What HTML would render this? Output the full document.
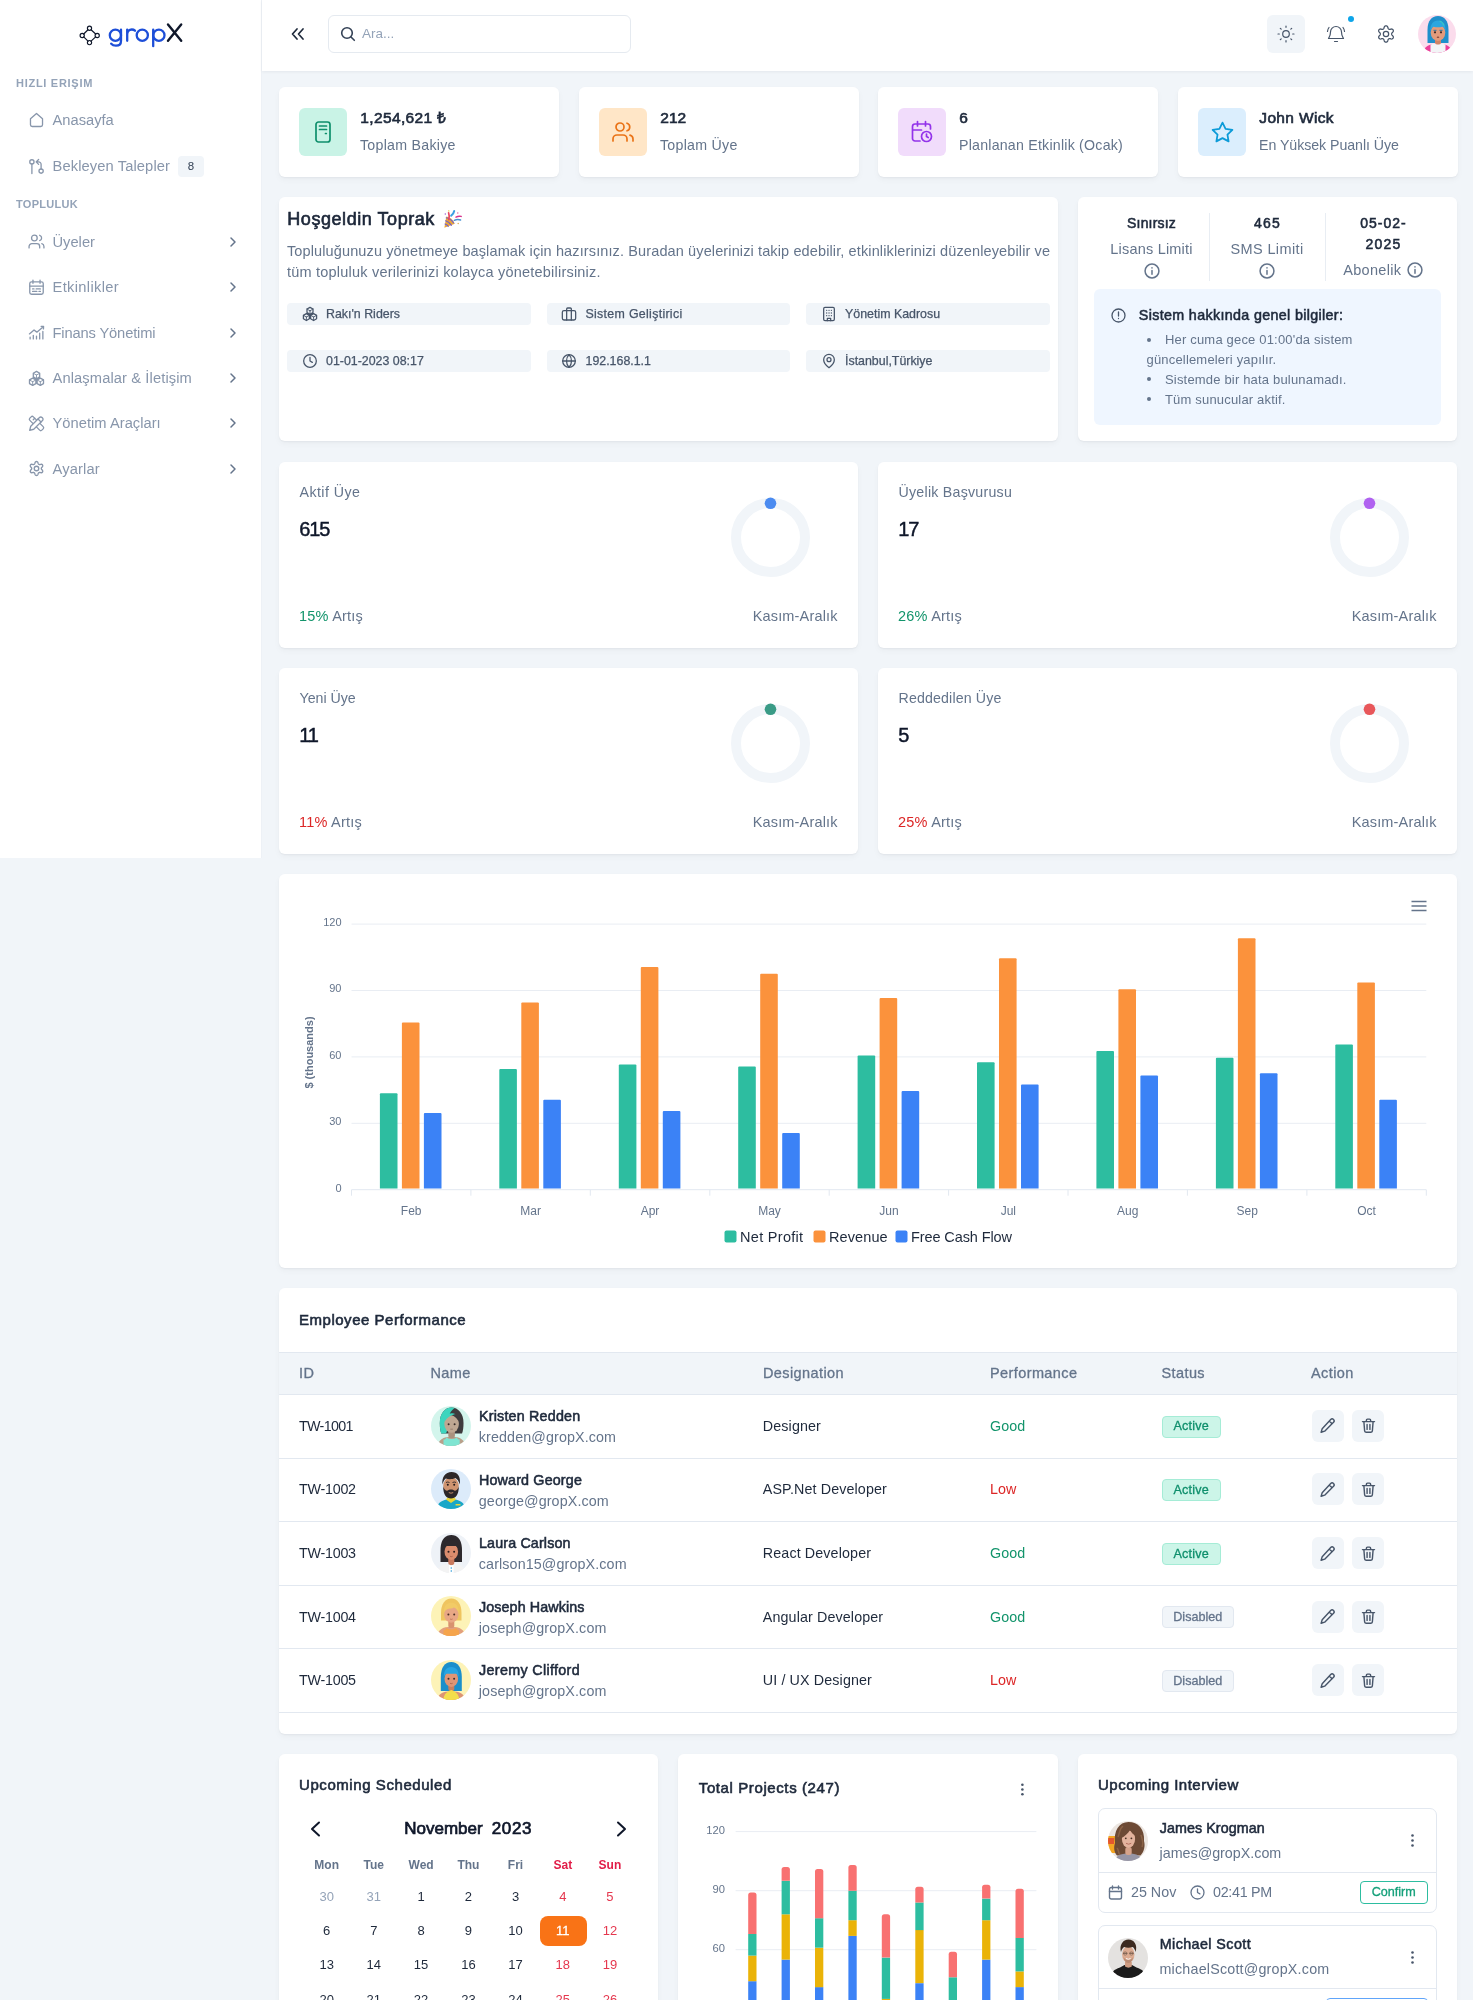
<!DOCTYPE html>
<html lang="tr">
<head>
<meta charset="utf-8">
<title>gropX</title>
<style>
*{box-sizing:border-box;margin:0;padding:0}
html,body{width:1473px;height:2000px;overflow:hidden}
body{background:#f1f5f9;font-family:"Liberation Sans",sans-serif;color:#1e293b;position:relative;font-size:14px;-webkit-font-smoothing:antialiased}
body>*{will-change:transform}
.abs{position:absolute}
.t{position:absolute;white-space:nowrap;line-height:1}
.card{position:absolute;background:#fff;border-radius:6px;box-shadow:0 1px 2px rgba(15,23,42,.05),0 3px 6px rgba(15,23,42,.035)}
svg{display:block;overflow:visible}
.ic{fill:none;stroke:currentColor;stroke-width:1.5;stroke-linecap:round;stroke-linejoin:round}
.b{font-weight:700}
.mut{color:#64748b}
/* sidebar */
#side{position:absolute;left:0;top:0;width:262px;height:858px;background:#fff;border-right:1px solid #edf1f6}
.sec{position:absolute;left:16px;font-size:11px;font-weight:700;letter-spacing:.75px;color:#94a3b8;line-height:1;white-space:nowrap}
.nav{position:absolute;left:28px;height:20px;display:flex;align-items:center;color:#8896ab;font-size:14.7px;white-space:nowrap}
.nav svg{width:17px;height:17px;margin-right:8px;flex:none;stroke-width:1.850;margin-left:-.5px}
.chev{position:absolute;left:229px;width:8px;height:10px;color:#64748b}
#bdg{margin-left:8px;background:#f1f5f9;color:#334155;font-size:11.500px;font-weight:500;border-radius:4px;width:26px;height:21px;display:flex;align-items:center;justify-content:center}
/* header */
#head{position:absolute;left:262px;top:0;width:1211px;height:70.500px;background:#fff;box-shadow:0 1px 3px rgba(15,23,42,.06)}
/* stat */
.st-ic{position:absolute;left:20.400px;top:21.400px;width:48px;height:48px;border-radius:6px;display:flex;align-items:center;justify-content:center}
.st-t{position:absolute;left:81.300px;top:23.200px;font-size:15.500px;color:#1e293b;white-space:nowrap;line-height:1;-webkit-text-stroke:.65px #1e293b}
.st-s{position:absolute;left:81px;top:51.200px;font-size:14.200px;letter-spacing:.27px;color:#64748b;white-space:nowrap;line-height:1}
/* chips */
.chip{position:absolute;width:243.500px;height:22px;background:#f1f5f9;border-radius:4px;color:#475569;font-size:12.400px;font-weight:500;-webkit-text-stroke:.25px #475569;display:flex;align-items:center;padding-left:15px;white-space:nowrap}
.chip svg{width:16px;height:16px;margin-right:8.500px;flex:none;stroke-width:1.900;margin-left:-.5px}
/* mini stats */
.ms-l{position:absolute;left:20.500px;top:23.100px;font-size:14.200px;letter-spacing:.25px;color:#64748b;line-height:1;white-space:nowrap}
.ms-v{position:absolute;left:20.300px;top:57.300px;font-size:20px;letter-spacing:-1.100px;font-weight:500;color:#0f172a;line-height:1;white-space:nowrap;-webkit-text-stroke:.45px #0f172a}
.ms-p{position:absolute;left:20px;top:147px;font-size:14.500px;letter-spacing:.22px;color:#64748b;line-height:1;white-space:nowrap}
.ms-r{position:absolute;right:20.300px;top:147px;font-size:14.500px;letter-spacing:.17px;color:#64748b;line-height:1;white-space:nowrap}
.ring{position:absolute;left:451px;top:35px;width:81px;height:81px}
.bu{display:inline-block;width:18.500px;height:4px;vertical-align:middle;position:relative;top:-1px}.bu:before{content:'';position:absolute;left:.5px;top:0;width:4px;height:4px;border-radius:50%;background:#64748b}
.g{color:#12946b}.r{color:#dc2626}

.th{font-size:14.500px;letter-spacing:.4px;font-weight:500;color:#64748b;-webkit-text-stroke:.3px #64748b}
.td{font-size:14.300px;color:#1e293b}
.sb{-webkit-text-stroke:.55px #1e293b}
.td.mut{color:#64748b}.td.g{color:#12946b}.td.r{color:#dc2626}
.bdg{position:absolute;height:22px;border-radius:4px;font-size:12.600px;font-weight:500;display:flex;align-items:center;justify-content:center;line-height:1}
.act{width:58.500px;background:#ccf5e8;border:1px solid #a5ecd6;color:#0e8f6c;-webkit-text-stroke:.3px #0e8f6c;letter-spacing:.2px}
.dis{width:71.500px;background:#f1f5f9;border:1px solid #e2e8f0;color:#64748b;-webkit-text-stroke:.3px #64748b}
.abtn{position:absolute;width:32px;height:32px;border-radius:6px;background:#f1f5f9;color:#475569;display:flex;align-items:center;justify-content:center}
</style>
</head>
<body>
<!-- SIDEBAR -->
<div id="side">
  <svg class="abs" style="left:79px;top:22px" width="106" height="27" viewBox="79 22 106 27" fill="none" stroke-linecap="round" stroke-linejoin="round">
    <g stroke="#0f172a" stroke-width="1.150">
      <path d="M88 29.770 83.700 33.980M91.040 29.730 95.660 34.020M83.700 36.920 88 41.130M95.660 36.880 91.040 41.170"/>
      <circle cx="89.500" cy="28.300" r="2.100"/><circle cx="82.200" cy="35.450" r="2.100"/><circle cx="97.200" cy="35.450" r="2.100"/><circle cx="89.500" cy="42.600" r="2.100"/>
    </g>
    <g stroke="#1d4ed8" stroke-width="2.300">
      <circle cx="115.400" cy="35.200" r="5.600"/>
      <path d="M121 29.600V41c0 3-2 4.700-5 4.700-2 0-3.700-.7-4.800-2"/>
      <path d="M127.200 29.600V40.800M127.200 34.500c0-3 2-5 4.600-5 1.400 0 2.400.5 3.200 1.200"/>
      <circle cx="142.300" cy="35.200" r="5.600"/>
      <path d="M153.200 29.600V46.200"/>
      <circle cx="158.900" cy="35.200" r="5.600"/>
    </g>
    <path d="M168 24.500 181.200 40.800M181.200 24.500 168 40.800" stroke="#0f172a" stroke-width="2.400"/>
  </svg>
  <div class="sec" style="top:78px;letter-spacing:.72px">HIZLI ERIŞIM</div>
  <div class="nav" style="top:110px"><svg class="ic" viewBox="0 0 24 24"><path d="M3.500 9.500 12 2l8.500 7.500V18a2.500 2.500 0 0 1-2.500 2.500H6A2.500 2.500 0 0 1 3.500 18z"/></svg>Anasayfa</div>
  <div class="nav" style="top:156px"><svg class="ic" viewBox="0 0 24 24"><circle cx="5.500" cy="5.500" r="3"/><path d="M5.500 8.500V22"/><circle cx="18.500" cy="18.500" r="3"/><path d="M18.500 15.500V9a3.500 3.500 0 0 0-3.500-3.500h-3M15 2l-3.500 3.500L15 9"/></svg><span style="letter-spacing:.11px">Bekleyen Talepler</span><span id="bdg">8</span></div>
  <div class="sec" style="top:199px;letter-spacing:.3px">TOPLULUK</div>
  <div class="nav" style="top:231.700px"><svg class="ic" viewBox="0 0 24 24"><circle cx="9" cy="7" r="4"/><path d="M1.500 21v-2a4 4 0 0 1 4-4h7a4 4 0 0 1 4 4v2M16.500 3.200a4 4 0 0 1 0 7.600M22.500 21v-2a4 4 0 0 0-3-3.850"/></svg>Üyeler</div>
  <div class="nav" style="top:277.100px"><svg class="ic" viewBox="0 0 24 24"><rect x="2.500" y="4" width="19" height="17.500" rx="2.500"/><path d="M7 1.500V6M17 1.500V6M2.500 10h19M6.500 14h2M11.500 14h6M6.500 17.500h6M15.500 17.500h2"/></svg><span style="letter-spacing:0.34px">Etkinlikler</span></div>
  <div class="nav" style="top:322.500px"><svg class="ic" viewBox="0 0 24 24"><path d="M2 14 8.500 8.500l4 3L22 3.500M18.500 3.300l3.500.2-.2 3.500M3 21v-2.500M7.500 21v-5M12 21v-4M16.500 21V13M21 21V10.500"/></svg><span style="letter-spacing:-0.14px">Finans Yönetimi</span></div>
  <div class="nav" style="top:368px"><svg class="ic" viewBox="0 0 24 24"><path d="M12.00 2.00 16.50 4.60 16.50 9.80 12.00 12.40 7.50 9.80 7.50 4.60zM6.60 11.40 11.10 14.00 11.10 19.20 6.60 21.80 2.10 19.20 2.10 14.00zM17.40 11.40 21.90 14.00 21.90 19.20 17.40 21.80 12.90 19.20 12.90 14.00z"/><path d="M12 7.2L12.00 12.40M12 7.2L16.50 4.60M12 7.2L7.50 4.60M6.6 16.6L6.60 21.80M6.6 16.6L11.10 14.00M6.6 16.6L2.10 14.00M17.4 16.6L17.40 21.80M17.4 16.6L21.90 14.00M17.4 16.6L12.90 14.00" stroke-width="1.300"/></svg><span style="letter-spacing:0.11px">Anlaşmalar &amp; İletişim</span></div>
  <div class="nav" style="top:413.400px"><svg class="ic" viewBox="0 0 24 24"><g transform="rotate(45 12 12)"><rect x="0" y="8.500" width="24" height="7" rx="2.200" fill="#fff"/><path d="M5 8.500v3M9.500 8.500v2"/></g><g transform="rotate(-45 12 12)"><path d="M-1.500 12 3.500 9h17.500a2.500 2.500 0 0 1 2.500 2.500v1a2.500 2.500 0 0 1-2.500 2.500H3.500z" fill="#fff"/><path d="M18 9v6"/></g></svg><span style="letter-spacing:0.03px">Yönetim Araçları</span></div>
  <div class="nav" style="top:458.800px"><svg class="ic" viewBox="0 0 24 24"><circle cx="12" cy="12" r="3.200"/><path d="M12.00 2.15 12.64 2.24 13.25 2.52 13.78 3.05 14.15 3.98 14.40 4.92 14.69 5.50 15.02 5.89 15.38 6.15 15.79 6.33 16.28 6.42 16.93 6.38 17.87 6.13 18.86 5.99 19.59 6.18 20.13 6.56 20.53 7.07 20.77 7.67 20.83 8.34 20.64 9.07 20.02 9.85 19.33 10.54 18.98 11.08 18.80 11.55 18.75 12.00 18.80 12.45 18.98 12.92 19.33 13.46 20.02 14.15 20.64 14.93 20.83 15.66 20.77 16.33 20.53 16.92 20.13 17.44 19.59 17.82 18.86 18.01 17.87 17.87 16.93 17.62 16.28 17.58 15.79 17.67 15.38 17.85 15.02 18.11 14.69 18.50 14.40 19.08 14.15 20.02 13.78 20.95 13.25 21.48 12.64 21.76 12.00 21.85 11.36 21.76 10.75 21.48 10.22 20.95 9.85 20.02 9.60 19.08 9.31 18.50 8.98 18.11 8.63 17.85 8.21 17.67 7.72 17.58 7.07 17.62 6.13 17.87 5.14 18.01 4.41 17.82 3.87 17.44 3.47 16.93 3.23 16.33 3.17 15.66 3.36 14.93 3.98 14.15 4.67 13.46 5.02 12.92 5.20 12.45 5.25 12.00 5.20 11.55 5.02 11.08 4.67 10.54 3.98 9.85 3.36 9.07 3.17 8.34 3.23 7.67 3.47 7.07 3.87 6.56 4.41 6.18 5.14 5.99 6.13 6.13 7.07 6.38 7.72 6.42 8.21 6.33 8.62 6.15 8.98 5.89 9.31 5.50 9.60 4.92 9.85 3.98 10.22 3.05 10.75 2.52 11.36 2.24z"/></svg><span style="letter-spacing:0.15px">Ayarlar</span></div>
  <svg class="chev ic" style="top:236.700px" viewBox="0 0 8 10"><path d="M2 1l4 4-4 4"/></svg>
  <svg class="chev ic" style="top:282.100px" viewBox="0 0 8 10"><path d="M2 1l4 4-4 4"/></svg>
  <svg class="chev ic" style="top:327.500px" viewBox="0 0 8 10"><path d="M2 1l4 4-4 4"/></svg>
  <svg class="chev ic" style="top:373px" viewBox="0 0 8 10"><path d="M2 1l4 4-4 4"/></svg>
  <svg class="chev ic" style="top:418.400px" viewBox="0 0 8 10"><path d="M2 1l4 4-4 4"/></svg>
  <svg class="chev ic" style="top:463.800px" viewBox="0 0 8 10"><path d="M2 1l4 4-4 4"/></svg>
</div>
<!-- HEADER -->
<div id="head">
  <svg class="abs ic" style="left:29px;top:28px;color:#1e293b;stroke-width:1.700" width="14" height="12" viewBox="0 0 14 12"><path d="M6 1 1.500 6 6 11M12 1 7.500 6 12 11"/></svg>
  <div class="abs" style="left:66px;top:15px;width:303px;height:38px;border:1px solid #e5eaf0;border-radius:6px;background:#fff"></div>
  <svg class="abs ic" style="left:78px;top:26px;color:#334155;stroke-width:1.600" width="16" height="16" viewBox="0 0 16 16"><circle cx="7" cy="7" r="5.300"/><path d="M11 11l3.300 3.300"/></svg>
  <div class="t" style="left:100px;top:27px;font-size:13.5px;color:#94a3b8">Ara...</div>
  <!-- right icons -->
  <div class="abs" style="left:1005px;top:15px;width:38px;height:38px;border-radius:6px;background:#f1f5f9"></div>
  <svg class="abs ic" style="left:1015px;top:25px;color:#475569;stroke-width:1.200" width="18" height="18" viewBox="0 0 18 18"><circle cx="9" cy="9" r="3.300"/><path d="M9 1v1.300M9 15.700V17M1 9h1.300M15.700 9H17M3.300 3.300l.9.900M13.800 13.800l.9.900M14.700 3.300l-.9.900M4.200 13.800l-.9.900"/></svg>
  <svg class="abs ic" style="left:1064px;top:24px;color:#475569;stroke-width:1.200" width="20" height="20" viewBox="0 0 20 20"><path d="M10 2.500a5.500 5.500 0 0 0-5.500 5.500c0 4-1.500 5.500-2 6.500h15c-.5-1-2-2.500-2-6.500A5.500 5.500 0 0 0 10 2.500zM8.500 17.500h3M3 3.500C2 4.800 1.500 6 1.500 7.500M17 3.500c1 1.300 1.500 2.500 1.500 4"/></svg>
  <div class="abs" style="left:1085.500px;top:16px;width:6px;height:6px;border-radius:50%;background:#0ea5e9"></div>
  <svg class="abs ic" style="left:1114px;top:24px;color:#475569;stroke-width:1.500" width="20" height="20" viewBox="0 0 24 24"><circle cx="12" cy="12" r="3.200"/><path d="M12.00 2.15 12.64 2.24 13.25 2.52 13.78 3.05 14.15 3.98 14.40 4.92 14.69 5.50 15.02 5.89 15.38 6.15 15.79 6.33 16.28 6.42 16.93 6.38 17.87 6.13 18.86 5.99 19.59 6.18 20.13 6.56 20.53 7.07 20.77 7.67 20.83 8.34 20.64 9.07 20.02 9.85 19.33 10.54 18.98 11.08 18.80 11.55 18.75 12.00 18.80 12.45 18.98 12.92 19.33 13.46 20.02 14.15 20.64 14.93 20.83 15.66 20.77 16.33 20.53 16.92 20.13 17.44 19.59 17.82 18.86 18.01 17.87 17.87 16.93 17.62 16.28 17.58 15.79 17.67 15.38 17.85 15.02 18.11 14.69 18.50 14.40 19.08 14.15 20.02 13.78 20.95 13.25 21.48 12.64 21.76 12.00 21.85 11.36 21.76 10.75 21.48 10.22 20.95 9.85 20.02 9.60 19.08 9.31 18.50 8.98 18.11 8.63 17.85 8.21 17.67 7.72 17.58 7.07 17.62 6.13 17.87 5.14 18.01 4.41 17.82 3.87 17.44 3.47 16.93 3.23 16.33 3.17 15.66 3.36 14.93 3.98 14.15 4.67 13.46 5.02 12.92 5.20 12.45 5.25 12.00 5.20 11.55 5.02 11.08 4.67 10.54 3.98 9.85 3.36 9.07 3.17 8.34 3.23 7.67 3.47 7.07 3.87 6.56 4.41 6.18 5.14 5.99 6.13 6.13 7.07 6.38 7.72 6.42 8.21 6.33 8.62 6.15 8.98 5.89 9.31 5.50 9.60 4.92 9.85 3.98 10.22 3.05 10.75 2.52 11.36 2.24z"/></svg>
  <svg class="abs" style="left:1156px;top:15px" width="38" height="38" viewBox="0 0 38 38"><defs><clipPath id="av0"><circle cx="19" cy="19" r="19"/></clipPath></defs><g clip-path="url(#av0)"><rect width="38" height="38" fill="#fbdcec"/><path d="M9.500 15C9.500 6 13.500 1 20 1s10.500 5 10.500 14v13h-21z" fill="#1f8fcb"/><path d="M5.500 38c0-6 5.500-9.500 14.500-9.500S33.500 32 33.500 38z" fill="#ec3f9a"/><path d="M12.500 38v-8.500q7.500-2.500 15 0V38z" fill="#f3f4f6"/><rect x="17" y="23" width="6" height="6.500" rx="2" fill="#cf8467"/><ellipse cx="20" cy="17.500" rx="7.300" ry="8.500" fill="#e39b7c"/><path d="M12.300 16c0-6.500 2.700-10.500 7.700-10.500s7.700 4 7.700 10.500c-1-2.500-2-3.800-3.200-4.300-3 .8-6 .8-9 0-1.200.5-2.200 1.800-3.200 4.300z" fill="#2ba6e0"/><path d="M21.500 6c2 .5 3.500 2 4.500 4.500" stroke="#37c6c2" stroke-width="1.200" fill="none"/><circle cx="17" cy="17.300" r="1.100" fill="#3b2a2a"/><circle cx="23" cy="17.300" r="1.100" fill="#3b2a2a"/><path d="M15.500 15.300h3M21.500 15.300h3" stroke="#1c6fa3" stroke-width=".9"/><ellipse cx="20" cy="22.300" rx="1.300" ry=".8" fill="#8a4538"/></g></svg>
</div>
<!-- STAT CARDS -->
<div class="card" style="left:279px;top:87px;width:279.500px;height:90px">
  <div class="st-ic" style="background:#c9f3e6;color:#0f8f6c"><svg class="ic" style="stroke-width:1.700" width="24" height="24" viewBox="0 0 24 24"><rect x="5" y="2" width="14" height="20" rx="2.500"/><path d="M8.500 6h7M8.500 9.500h7M14.500 13.500h.8"/></svg></div>
  <div class="st-t" style="letter-spacing:.36px">1,254,621 ₺</div><div class="st-s">Toplam Bakiye</div>
</div>
<div class="card" style="left:578.500px;top:87px;width:279.500px;height:90px">
  <div class="st-ic" style="background:#ffe6c7;color:#ea7317"><svg class="ic" style="stroke-width:1.700" width="24" height="24" viewBox="0 0 24 24"><circle cx="9" cy="7" r="4"/><path d="M2 21v-2a4 4 0 0 1 4-4h6a4 4 0 0 1 4 4v2M16 3.200a4 4 0 0 1 0 7.600M22 21v-2a4 4 0 0 0-3-3.850"/></svg></div>
  <div class="st-t" style="letter-spacing:0">212</div><div class="st-s">Toplam Üye</div>
</div>
<div class="card" style="left:878px;top:87px;width:279.500px;height:90px">
  <div class="st-ic" style="background:#f1dcfb;color:#9333ea"><svg class="ic" style="stroke-width:1.700" width="24" height="24" viewBox="0 0 24 24"><path d="M10 21H5a2.500 2.500 0 0 1-2.500-2.500V6.500A2.500 2.500 0 0 1 5 4h13a2.500 2.500 0 0 1 2.500 2.500V9M7.500 1.500V6M15.500 1.500V6M2.500 10h9"/><circle cx="16.500" cy="16.500" r="5"/><path d="M16.500 14v2.500l1.700 1"/></svg></div>
  <div class="st-t">6</div><div class="st-s" style="letter-spacing:.22px">Planlanan Etkinlik (Ocak)</div>
</div>
<div class="card" style="left:1177.500px;top:87px;width:279.500px;height:90px">
  <div class="st-ic" style="background:#dbeefd;color:#0c9bd8"><svg class="ic" style="stroke-width:1.700" width="25" height="25" viewBox="0 0 24 24"><path d="M12 2.500l2.950 5.950 6.550.95-4.750 4.600 1.100 6.500L12 17.400 6.150 20.500l1.100-6.500L2.500 9.400l6.550-.95z"/></svg></div>
  <div class="st-t" style="letter-spacing:.35px">John Wick</div><div class="st-s" style="letter-spacing:-.05px">En Yüksek Puanlı Üye</div>
</div>

<!-- WELCOME -->
<div class="card" style="left:279px;top:197px;width:778.500px;height:244px">
  <div class="t" style="left:8.300px;top:13px;font-size:18px;color:#1e293b;letter-spacing:.55px;-webkit-text-stroke:.62px #162033">Hoşgeldin Toprak</div>
  <svg class="abs" style="left:165.400px;top:12.800px" width="18" height="18.500" viewBox="0 0 18 18.500" fill="none" stroke-linecap="round"><path d="M.4 17.700 2.300 6.600Q8.200 7.600 10.800 13.800z" fill="#e9a63a"/><path d="M1.600 10.800q3.500 1 5.800 4.600M1 14q2 .6 3.300 2.400M2.200 7.800q4.500.8 7.300 5" stroke="#6d5bd0" stroke-width="1.100"/><path d="M4.800 9.500C5.800 7 5.300 5 4.600 2.800" stroke="#ea4560" stroke-width="1.700"/><path d="M7.200 5.600q2.400-1.600 3-4.600" stroke="#3a9fe2" stroke-width="2"/><path d="M12 7.200q2.500-1.600 5.200-.8" stroke="#d8358d" stroke-width="1.500"/><path d="M10.300 10.300q3.200-1.600 6.300-.3" stroke="#4a93d3" stroke-width="1.500"/><circle cx="4.800" cy=".9" r=".7" fill="#e8c02a"/><circle cx="1.300" cy="4" r=".7" fill="#9b59d0"/><circle cx="13.800" cy="3" r=".7" fill="#e0559b"/><circle cx="14.200" cy="13.500" r=".7" fill="#d9a441"/></svg>
  <div class="abs mut" style="left:8px;top:43.500px;width:770px;font-size:14.500px;letter-spacing:.12px;line-height:21.700px;white-space:nowrap">Topluluğunuzu yönetmeye başlamak için hazırsınız. Buradan üyelerinizi takip edebilir, etkinliklerinizi düzenleyebilir ve<br><span style="letter-spacing:.21px">tüm topluluk verilerinizi kolayca yönetebilirsiniz.</span></div>
  <div class="chip" style="left:8px;top:106px"><svg class="ic" viewBox="0 0 24 24"><path d="M12.00 2.00 16.50 4.60 16.50 9.80 12.00 12.40 7.50 9.80 7.50 4.60zM6.60 11.40 11.10 14.00 11.10 19.20 6.60 21.80 2.10 19.20 2.10 14.00zM17.40 11.40 21.90 14.00 21.90 19.20 17.40 21.80 12.90 19.20 12.90 14.00z"/><path d="M12 7.2L12.00 12.40M12 7.2L16.50 4.60M12 7.2L7.50 4.60M6.6 16.6L6.60 21.80M6.6 16.6L11.10 14.00M6.6 16.6L2.10 14.00M17.4 16.6L17.40 21.80M17.4 16.6L21.90 14.00M17.4 16.6L12.90 14.00" stroke-width="1.300"/></svg>Rakı'n Riders</div>
  <div class="chip" style="left:267.500px;top:106px"><svg class="ic" viewBox="0 0 24 24"><rect x="2" y="7" width="20" height="14" rx="2.500"/><path d="M8.500 21V4.500A1.500 1.500 0 0 1 10 3h4a1.500 1.500 0 0 1 1.500 1.500V21"/></svg><span style="letter-spacing:.3px">Sistem Geliştirici</span></div>
  <div class="chip" style="left:527px;top:106px"><svg class="ic" viewBox="0 0 24 24"><rect x="4" y="2" width="16" height="20" rx="2"/><path d="M9.500 22v-3.500h5V22M8.500 6.500h.1M12 6.500h.1M15.500 6.500h.1M8.500 10.500h.1M12 10.500h.1M15.500 10.500h.1M8.500 14.500h.1M12 14.500h.1M15.500 14.500h.1"/></svg>Yönetim Kadrosu</div>
  <div class="chip" style="left:8px;top:153px"><svg class="ic" viewBox="0 0 24 24"><circle cx="12" cy="12" r="9.500"/><path d="M12 6.500V12l3.500 2"/></svg>01-01-2023 08:17</div>
  <div class="chip" style="left:267.500px;top:153px"><svg class="ic" viewBox="0 0 24 24"><circle cx="12" cy="12" r="9.500"/><path d="M2.500 12h19M12 2.500c-5 5-5 14 0 19M12 2.500c5 5 5 14 0 19"/></svg>192.168.1.1</div>
  <div class="chip" style="left:527px;top:153px"><svg class="ic" viewBox="0 0 24 24"><path d="M20 10c0 6-8 12-8 12S4 16 4 10a8 8 0 0 1 16 0z"/><circle cx="12" cy="10" r="3"/></svg>İstanbul,Türkiye</div>
</div>

<!-- INFO -->
<div class="card" style="left:1078px;top:197px;width:379px;height:244px">
  <div class="abs" style="left:130.500px;top:16px;width:1px;height:68px;background:#e8edf3"></div>
  <div class="abs" style="left:246.500px;top:16px;width:1px;height:68px;background:#e8edf3"></div>
  <div class="abs" style="left:16px;top:16px;width:115px;text-align:center">
    <div style="font-size:14px;line-height:21px;color:#1e293b;letter-spacing:.18px;-webkit-text-stroke:.55px #1e293b">Sınırsız</div>
    <div class="mut" style="font-size:14.500px;letter-spacing:.2px;line-height:26px;margin-top:2px">Lisans Limiti</div>
    <svg class="ic mut" style="margin:.5px auto 0;stroke-width:1.400" width="16" height="16" viewBox="0 0 15 15"><circle cx="7.500" cy="7.500" r="6.500"/><path d="M7.500 7v3.500M7.500 4.500v.1"/></svg>
  </div>
  <div class="abs" style="left:131.500px;top:16px;width:115px;text-align:center">
    <div style="font-size:14px;line-height:21px;color:#1e293b;letter-spacing:1.200px;padding-left:1px;-webkit-text-stroke:.55px #1e293b">465</div>
    <div class="mut" style="font-size:14.500px;letter-spacing:.38px;line-height:26px;margin-top:2px">SMS Limiti</div>
    <svg class="ic mut" style="margin:.5px auto 0;stroke-width:1.400" width="16" height="16" viewBox="0 0 15 15"><circle cx="7.500" cy="7.500" r="6.500"/><path d="M7.500 7v3.500M7.500 4.500v.1"/></svg>
  </div>
  <div class="abs" style="left:247.500px;top:16px;width:115px;text-align:center">
    <div style="font-size:14px;line-height:21px;color:#1e293b;letter-spacing:1px;padding-left:1px;-webkit-text-stroke:.55px #1e293b">05-02-<br><span style="letter-spacing:1.200px">2025</span></div>
    <div class="mut" style="font-size:14.500px;letter-spacing:.3px;line-height:26px;margin-top:2px;display:flex;justify-content:center;align-items:center">Abonelik<svg class="ic" style="margin-left:5.500px;stroke-width:1.400" width="16" height="16" viewBox="0 0 15 15"><circle cx="7.500" cy="7.500" r="6.500"/><path d="M7.500 7v3.500M7.500 4.500v.1"/></svg></div>
  </div>
  <div class="abs" style="left:16px;top:92px;width:347px;height:136px;background:#eff6ff;border-radius:6px"></div>
  <svg class="abs ic" style="left:33px;top:110.500px;color:#475569;stroke-width:1.300" width="15" height="15" viewBox="0 0 15 15"><circle cx="7.500" cy="7.500" r="6.500"/><path d="M7.500 4v4M7.500 10.500v.1"/></svg>
  <div class="t" style="left:60.800px;top:111px;font-size:14.300px;letter-spacing:.34px;color:#1e293b;-webkit-text-stroke:.55px #1e293b">Sistem hakkında genel bilgiler:</div>
  <div class="abs mut" style="left:68.500px;top:133px;width:260px;font-size:13px;letter-spacing:.18px;line-height:19.850px">
    <div><span class="bu"></span>Her cuma gece 01:00'da sistem<br>güncellemeleri yapılır.</div>
    <div><span class="bu"></span>Sistemde bir hata bulunamadı.</div>
    <div><span class="bu"></span>Tüm sunucular aktif.</div>
  </div>
</div>

<!-- MINI STATS -->
<div class="card" style="left:279px;top:462px;width:579px;height:186px">
  <div class="ms-l" style="letter-spacing:.45px">Aktif Üye</div><div class="ms-v">615</div>
  <div class="ms-p"><span class="g">15%</span> Artış</div><div class="ms-r">Kasım-Aralık</div>
  <svg class="ring" viewBox="0 0 81 81"><circle cx="40.500" cy="40.500" r="34.500" fill="none" stroke="#f1f5f9" stroke-width="10"/><circle cx="40.500" cy="6.300" r="5.800" fill="#4b8bf0"/></svg>
</div>
<div class="card" style="left:878px;top:462px;width:579px;height:186px">
  <div class="ms-l" style="letter-spacing:.25px">Üyelik Başvurusu</div><div class="ms-v">17</div>
  <div class="ms-p"><span class="g">26%</span> Artış</div><div class="ms-r">Kasım-Aralık</div>
  <svg class="ring" viewBox="0 0 81 81"><circle cx="40.500" cy="40.500" r="34.500" fill="none" stroke="#f1f5f9" stroke-width="10"/><circle cx="40.500" cy="6.300" r="5.800" fill="#b062f0"/></svg>
</div>
<div class="card" style="left:279px;top:668px;width:579px;height:186px">
  <div class="ms-l" style="letter-spacing:0">Yeni Üye</div><div class="ms-v">11</div>
  <div class="ms-p"><span class="r">11%</span> Artış</div><div class="ms-r">Kasım-Aralık</div>
  <svg class="ring" viewBox="0 0 81 81"><circle cx="40.500" cy="40.500" r="34.500" fill="none" stroke="#f1f5f9" stroke-width="10"/><circle cx="40.500" cy="6.300" r="5.800" fill="#3a9b86"/></svg>
</div>
<div class="card" style="left:878px;top:668px;width:579px;height:186px">
  <div class="ms-l" style="letter-spacing:.15px">Reddedilen Üye</div><div class="ms-v">5</div>
  <div class="ms-p"><span class="r">25%</span> Artış</div><div class="ms-r">Kasım-Aralık</div>
  <svg class="ring" viewBox="0 0 81 81"><circle cx="40.500" cy="40.500" r="34.500" fill="none" stroke="#f1f5f9" stroke-width="10"/><circle cx="40.500" cy="6.300" r="5.800" fill="#e8575a"/></svg>
</div>
<div class="card" style="left:279px;top:874px;width:1178px;height:394px">
<svg class="abs" style="left:0;top:0" width="1178" height="394" viewBox="279 874 1178 394" font-family="Liberation Sans, sans-serif">
<path d="M351.5 1189.7H1426.3" stroke="#e2e8f0" stroke-width="1"/>
<text x="341.5" y="1191.5" text-anchor="end" font-size="11" fill="#64748b">0</text>
<path d="M351.5 1123.3H1426.3" stroke="#e9edf3" stroke-width="1"/>
<text x="341.5" y="1125.1" text-anchor="end" font-size="11" fill="#64748b">30</text>
<path d="M351.5 1056.9H1426.3" stroke="#e9edf3" stroke-width="1"/>
<text x="341.5" y="1058.7" text-anchor="end" font-size="11" fill="#64748b">60</text>
<path d="M351.5 990.5H1426.3" stroke="#e9edf3" stroke-width="1"/>
<text x="341.5" y="992.3" text-anchor="end" font-size="11" fill="#64748b">90</text>
<path d="M351.5 924.1H1426.3" stroke="#e9edf3" stroke-width="1"/>
<text x="341.5" y="925.9" text-anchor="end" font-size="11" fill="#64748b">120</text>
<path d="M351.5 1189.7v6" stroke="#e2e8f0" stroke-width="1"/>
<path d="M470.9 1189.7v6" stroke="#e2e8f0" stroke-width="1"/>
<path d="M590.3 1189.7v6" stroke="#e2e8f0" stroke-width="1"/>
<path d="M709.8 1189.7v6" stroke="#e2e8f0" stroke-width="1"/>
<path d="M829.2 1189.7v6" stroke="#e2e8f0" stroke-width="1"/>
<path d="M948.6 1189.7v6" stroke="#e2e8f0" stroke-width="1"/>
<path d="M1068.0 1189.7v6" stroke="#e2e8f0" stroke-width="1"/>
<path d="M1187.4 1189.7v6" stroke="#e2e8f0" stroke-width="1"/>
<path d="M1306.9 1189.7v6" stroke="#e2e8f0" stroke-width="1"/>
<path d="M1426.3 1189.7v6" stroke="#e2e8f0" stroke-width="1"/>
<path d="M379.9 1188.4V1094.2q0-1.0 1.0-1.0h15.6q1.0 0 1.0 1.0V1188.4z" fill="#2dbda0"/>
<path d="M401.9 1188.4V1023.4q0-1.0 1.0-1.0h15.6q1.0 0 1.0 1.0V1188.4z" fill="#fb923c"/>
<path d="M423.9 1188.4V1114.1q0-1.0 1.0-1.0h15.6q1.0 0 1.0 1.0V1188.4z" fill="#3b82f6"/>
<text x="411.2" y="1215" text-anchor="middle" font-size="12" fill="#64748b">Feb</text>
<path d="M499.3 1188.4V1069.9q0-1.0 1.0-1.0h15.6q1.0 0 1.0 1.0V1188.4z" fill="#2dbda0"/>
<path d="M521.3 1188.4V1003.5q0-1.0 1.0-1.0h15.6q1.0 0 1.0 1.0V1188.4z" fill="#fb923c"/>
<path d="M543.3 1188.4V1100.8q0-1.0 1.0-1.0h15.6q1.0 0 1.0 1.0V1188.4z" fill="#3b82f6"/>
<text x="530.6" y="1215" text-anchor="middle" font-size="12" fill="#64748b">Mar</text>
<path d="M618.8 1188.4V1065.4q0-1.0 1.0-1.0h15.6q1.0 0 1.0 1.0V1188.4z" fill="#2dbda0"/>
<path d="M640.8 1188.4V968.0q0-1.0 1.0-1.0h15.6q1.0 0 1.0 1.0V1188.4z" fill="#fb923c"/>
<path d="M662.8 1188.4V1111.9q0-1.0 1.0-1.0h15.6q1.0 0 1.0 1.0V1188.4z" fill="#3b82f6"/>
<text x="650.0" y="1215" text-anchor="middle" font-size="12" fill="#64748b">Apr</text>
<path d="M738.2 1188.4V1067.6q0-1.0 1.0-1.0h15.6q1.0 0 1.0 1.0V1188.4z" fill="#2dbda0"/>
<path d="M760.2 1188.4V974.7q0-1.0 1.0-1.0h15.6q1.0 0 1.0 1.0V1188.4z" fill="#fb923c"/>
<path d="M782.2 1188.4V1134.0q0-1.0 1.0-1.0h15.6q1.0 0 1.0 1.0V1188.4z" fill="#3b82f6"/>
<text x="769.5" y="1215" text-anchor="middle" font-size="12" fill="#64748b">May</text>
<path d="M857.6 1188.4V1056.6q0-1.0 1.0-1.0h15.6q1.0 0 1.0 1.0V1188.4z" fill="#2dbda0"/>
<path d="M879.6 1188.4V999.0q0-1.0 1.0-1.0h15.6q1.0 0 1.0 1.0V1188.4z" fill="#fb923c"/>
<path d="M901.6 1188.4V1092.0q0-1.0 1.0-1.0h15.6q1.0 0 1.0 1.0V1188.4z" fill="#3b82f6"/>
<text x="888.9" y="1215" text-anchor="middle" font-size="12" fill="#64748b">Jun</text>
<path d="M977.0 1188.4V1063.2q0-1.0 1.0-1.0h15.6q1.0 0 1.0 1.0V1188.4z" fill="#2dbda0"/>
<path d="M999.0 1188.4V959.2q0-1.0 1.0-1.0h15.6q1.0 0 1.0 1.0V1188.4z" fill="#fb923c"/>
<path d="M1021.0 1188.4V1085.4q0-1.0 1.0-1.0h15.6q1.0 0 1.0 1.0V1188.4z" fill="#3b82f6"/>
<text x="1008.3" y="1215" text-anchor="middle" font-size="12" fill="#64748b">Jul</text>
<path d="M1096.4 1188.4V1052.1q0-1.0 1.0-1.0h15.6q1.0 0 1.0 1.0V1188.4z" fill="#2dbda0"/>
<path d="M1118.4 1188.4V990.2q0-1.0 1.0-1.0h15.6q1.0 0 1.0 1.0V1188.4z" fill="#fb923c"/>
<path d="M1140.4 1188.4V1076.5q0-1.0 1.0-1.0h15.6q1.0 0 1.0 1.0V1188.4z" fill="#3b82f6"/>
<text x="1127.7" y="1215" text-anchor="middle" font-size="12" fill="#64748b">Aug</text>
<path d="M1215.9 1188.4V1058.8q0-1.0 1.0-1.0h15.6q1.0 0 1.0 1.0V1188.4z" fill="#2dbda0"/>
<path d="M1237.9 1188.4V939.3q0-1.0 1.0-1.0h15.6q1.0 0 1.0 1.0V1188.4z" fill="#fb923c"/>
<path d="M1259.9 1188.4V1074.3q0-1.0 1.0-1.0h15.6q1.0 0 1.0 1.0V1188.4z" fill="#3b82f6"/>
<text x="1247.2" y="1215" text-anchor="middle" font-size="12" fill="#64748b">Sep</text>
<path d="M1335.3 1188.4V1045.5q0-1.0 1.0-1.0h15.6q1.0 0 1.0 1.0V1188.4z" fill="#2dbda0"/>
<path d="M1357.3 1188.4V983.5q0-1.0 1.0-1.0h15.6q1.0 0 1.0 1.0V1188.4z" fill="#fb923c"/>
<path d="M1379.3 1188.4V1100.8q0-1.0 1.0-1.0h15.6q1.0 0 1.0 1.0V1188.4z" fill="#3b82f6"/>
<text x="1366.6" y="1215" text-anchor="middle" font-size="12" fill="#64748b">Oct</text>
<text transform="translate(312.500 1052.500) rotate(-90)" text-anchor="middle" font-size="11" font-weight="700" fill="#64748b">$ (thousands)</text>
<rect x="724.500" y="1230.500" width="12" height="12" rx="2" fill="#2dbda0"/><text x="740" y="1241.500" font-size="14.500" letter-spacing=".3" fill="#1e293b">Net Profit</text>
<rect x="813.500" y="1230.500" width="12" height="12" rx="2" fill="#fb923c"/><text x="829" y="1241.500" font-size="14.500" letter-spacing=".1" fill="#1e293b">Revenue</text>
<rect x="895.500" y="1230.500" width="12" height="12" rx="2" fill="#3b82f6"/><text x="911" y="1241.500" font-size="14.500" letter-spacing="-.1" fill="#1e293b">Free Cash Flow</text>
<path d="M1411.500 901.500h15M1411.500 906h15M1411.500 910.500h15" stroke="#64748b" stroke-width="1.500"/>
</svg></div>
<div class="card" style="left:279px;top:1288px;width:1178px;height:446px;overflow:hidden">
<div class="t" style="left:20px;top:23.500px;font-size:15px;color:#1e293b;letter-spacing:.52px;-webkit-text-stroke:.6px #1e293b">Employee Performance</div>
<div class="abs" style="left:0;top:64px;width:1178px;height:43px;background:#f1f5f9;border-top:1px solid #e2e8f0;border-bottom:1px solid #e2e8f0"></div>
<div class="t th" style="left:20px;top:78px">ID</div>
<div class="t th" style="left:151.5px;top:78px">Name</div>
<div class="t th" style="left:484px;top:78px">Designation</div>
<div class="t th" style="left:711px;top:78px">Performance</div>
<div class="t th" style="left:882.5px;top:78px">Status</div>
<div class="t th" style="left:1032px;top:78px">Action</div>
<div class="abs" style="left:0;top:169.6px;width:1178px;height:1px;background:#e2e8f0"></div>
<div class="t td" style="left:20px;top:130.9px;letter-spacing:-0.7px">TW-1001</div>
<svg class="abs" style="left:152px;top:117.5px" width="40" height="40" viewBox="0 0 40 40"><defs><clipPath id="ca1"><circle cx="20" cy="20" r="20"/></clipPath></defs><g clip-path="url(#ca1)"><rect width="40" height="40" fill="#d3f5ec"/><path d="M8.800 17c0-9.500 5-15.500 11.700-15.500S32.500 7.500 32.500 17c0 4.500-.5 8-1.500 10.500H10.300C9.300 25 8.800 21.500 8.800 17z" fill="#3e3b3d"/><path d="M8.800 17c0-9.500 5-15.500 11.700-15.500 1.200 0 2.300.2 3.300.6-4 2.400-6.300 6.900-6.300 12.900 0 5-1 9.500-2.500 12.500H10.300C9.300 25 8.800 21.500 8.800 17z" fill="#3dd5be"/><path d="M7 40c0-6 5-9.300 13.700-9.300S34 34 34 40z" fill="#b9a08b"/><rect x="17.300" y="24" width="6.600" height="8" rx="2" fill="#ab927e"/><ellipse cx="20.600" cy="18" rx="7.300" ry="8.700" fill="#bfa792"/><path d="M13.300 16c.3-5.500 3.500-8.700 7.500-8.700 1.500 0 2.800.4 3.800 1-4.500.5-8.300 3-11.300 7.700z" fill="#3dd5be"/><path d="M27.900 16c-.2-4-1.600-6.500-3.600-7.800-1 .2-2 .5-3 1 3 1.300 5.100 3.500 6.600 6.800z" fill="#3e3b3d"/><path d="M12.500 40v-6.800q1.800 1.200 2.800-1.800 5.300 3.400 10.600 0 1 3 2.800 1.800V40z" fill="#7fe5d2"/><circle cx="17.600" cy="18.200" r="1" fill="#3a2e2b"/><circle cx="23.600" cy="18.200" r="1" fill="#3a2e2b"/><path d="M19.300 23.200h2.600" stroke="#8e7565" stroke-width=".8"/></g></svg>
<div class="t td sb" style="left:200px;top:121.0px;letter-spacing:0.2px">Kristen Redden</div>
<div class="t td mut" style="left:199.800px;top:142.2px;letter-spacing:.12px">kredden@gropX.com</div>
<div class="t td" style="left:483.800px;top:130.9px;letter-spacing:.12px">Designer</div>
<div class="t td g" style="left:711px;top:130.9px;letter-spacing:.1px">Good</div>
<div class="bdg act" style="left:883px;top:127.7px">Active</div>
<div class="abtn" style="left:1032.500px;top:121.9px"><svg class="ic" style="stroke-width:2" width="17" height="17" viewBox="0 0 24 24"><path d="M16.500 3.500a2.800 2.800 0 0 1 4 4L8 20l-5 1.500L4.500 16.500zM14.500 5.500l4 4"/></svg></div>
<div class="abtn" style="left:1073px;top:121.9px"><svg class="ic" style="stroke-width:2" width="17" height="17" viewBox="0 0 24 24"><path d="M3.500 6.500h17M9 6.500v-2A1.500 1.500 0 0 1 10.500 3h3A1.500 1.500 0 0 1 15 4.500v2M5.500 6.500l1 13A2 2 0 0 0 8.500 21.500h7a2 2 0 0 0 2-2l1-13M10 10.500v7M14 10.500v7"/></svg></div>
<div class="abs" style="left:0;top:233.1px;width:1178px;height:1px;background:#e2e8f0"></div>
<div class="t td" style="left:20px;top:194.4px;letter-spacing:-0.25px">TW-1002</div>
<svg class="abs" style="left:152px;top:181.0px" width="40" height="40" viewBox="0 0 40 40"><defs><clipPath id="ca2"><circle cx="20" cy="20" r="20"/></clipPath></defs><g clip-path="url(#ca2)"><rect width="40" height="40" fill="#dcebfa"/><path d="M6 40c0-6.500 5.500-9.800 14-9.800S34 33.500 34 40z" fill="#1aa7c8"/><path d="M15 30.500l5 3.500 5-3.500-1.500-2h-7z" fill="#e9d63c"/><rect x="24.500" y="35" width="5" height="1.600" rx=".5" fill="#e9d63c"/><ellipse cx="20" cy="17" rx="7.800" ry="9" fill="#cf9470"/><path d="M11.500 15.500C10.500 8 14.500 3 20.500 3s9.500 4.500 8.300 12.500c-1-3.500-2.500-5.500-4.500-6.500-3 1.500-7 1.500-9.500.5-1.500 1.300-2.500 3-3.300 6z" fill="#2c2729"/><path d="M12.200 17.500c0 8.500 3.300 12 7.800 12s7.800-3.500 7.800-12c-.8 2.800-2.300 4-4 4.300-1.200-.9-2.400-1.200-3.800-1.200s-2.600.3-3.800 1.200c-1.700-.3-3.200-1.500-4-4.300z" fill="#2c2729"/><path d="M17.800 23.600q2.200 1.200 4.400 0" stroke="#cf9470" stroke-width=".9" fill="none"/><circle cx="16.800" cy="15.800" r="1" fill="#1f1717"/><circle cx="23.200" cy="15.800" r="1" fill="#1f1717"/><path d="M15 13.500q1.800-1 3.500 0M21.500 13.500q1.800-1 3.500 0" stroke="#2c2729" stroke-width=".9" fill="none"/></g></svg>
<div class="t td sb" style="left:200px;top:184.5px;letter-spacing:0.16px">Howard George</div>
<div class="t td mut" style="left:199.800px;top:205.8px;letter-spacing:.12px">george@gropX.com</div>
<div class="t td" style="left:483.800px;top:194.4px;letter-spacing:.12px">ASP.Net Developer</div>
<div class="t td r" style="left:711px;top:194.4px;letter-spacing:.1px">Low</div>
<div class="bdg act" style="left:883px;top:191.2px">Active</div>
<div class="abtn" style="left:1032.500px;top:185.4px"><svg class="ic" style="stroke-width:2" width="17" height="17" viewBox="0 0 24 24"><path d="M16.500 3.500a2.800 2.800 0 0 1 4 4L8 20l-5 1.500L4.500 16.500zM14.500 5.500l4 4"/></svg></div>
<div class="abtn" style="left:1073px;top:185.4px"><svg class="ic" style="stroke-width:2" width="17" height="17" viewBox="0 0 24 24"><path d="M3.500 6.500h17M9 6.500v-2A1.500 1.500 0 0 1 10.500 3h3A1.500 1.500 0 0 1 15 4.500v2M5.500 6.500l1 13A2 2 0 0 0 8.500 21.500h7a2 2 0 0 0 2-2l1-13M10 10.500v7M14 10.500v7"/></svg></div>
<div class="abs" style="left:0;top:296.7px;width:1178px;height:1px;background:#e2e8f0"></div>
<div class="t td" style="left:20px;top:258.0px;letter-spacing:-0.25px">TW-1003</div>
<svg class="abs" style="left:152px;top:244.6px" width="40" height="40" viewBox="0 0 40 40"><defs><clipPath id="ca3"><circle cx="20" cy="20" r="20"/></clipPath></defs><g clip-path="url(#ca3)"><rect width="40" height="40" fill="#eef2f7"/><path d="M9.500 17C9.500 7.500 13.500 2 20.300 2S31 7.500 31 17v12H9.500z" fill="#2d292d"/><path d="M6 40c0-6 5-9.300 14.300-9.300S34 34 34 40z" fill="#f3f3f3"/><rect x="17.300" y="24" width="6" height="8" rx="2" fill="#c97a5e"/><ellipse cx="20.300" cy="18.700" rx="6.800" ry="8.300" fill="#da8c6d"/><path d="M12.800 16.500c0-6 2.500-9.500 7.500-9.500s7.500 3.500 7.500 9.500c-1-2-2-3.200-3-3.600h-9c-1 .4-2 1.600-3 3.600z" fill="#2d292d"/><path d="M18 31.500l2.300 2 2.300-2v8.500h-4.600z" fill="#fff"/><circle cx="20.300" cy="35" r=".8" fill="#2d9bd8"/><circle cx="20.300" cy="38" r=".8" fill="#2d9bd8"/><circle cx="17.500" cy="18.700" r="1" fill="#2a1c1c"/><circle cx="23.100" cy="18.700" r="1" fill="#2a1c1c"/><path d="M19 23.300q1.300.7 2.600 0" stroke="#a85d48" stroke-width=".8" fill="none"/></g></svg>
<div class="t td sb" style="left:200px;top:248.1px;letter-spacing:0.14px">Laura Carlson</div>
<div class="t td mut" style="left:199.800px;top:269.3px;letter-spacing:.12px">carlson15@gropX.com</div>
<div class="t td" style="left:483.800px;top:258.0px;letter-spacing:.12px">React Developer</div>
<div class="t td g" style="left:711px;top:258.0px;letter-spacing:.1px">Good</div>
<div class="bdg act" style="left:883px;top:254.8px">Active</div>
<div class="abtn" style="left:1032.500px;top:249.0px"><svg class="ic" style="stroke-width:2" width="17" height="17" viewBox="0 0 24 24"><path d="M16.500 3.500a2.800 2.800 0 0 1 4 4L8 20l-5 1.500L4.500 16.500zM14.500 5.500l4 4"/></svg></div>
<div class="abtn" style="left:1073px;top:249.0px"><svg class="ic" style="stroke-width:2" width="17" height="17" viewBox="0 0 24 24"><path d="M3.500 6.500h17M9 6.500v-2A1.500 1.500 0 0 1 10.500 3h3A1.500 1.500 0 0 1 15 4.500v2M5.500 6.500l1 13A2 2 0 0 0 8.500 21.500h7a2 2 0 0 0 2-2l1-13M10 10.500v7M14 10.500v7"/></svg></div>
<div class="abs" style="left:0;top:360.2px;width:1178px;height:1px;background:#e2e8f0"></div>
<div class="t td" style="left:20px;top:321.6px;letter-spacing:-0.25px">TW-1004</div>
<svg class="abs" style="left:152px;top:308.2px" width="40" height="40" viewBox="0 0 40 40"><defs><clipPath id="ca4"><circle cx="20" cy="20" r="20"/></clipPath></defs><g clip-path="url(#ca4)"><rect width="40" height="40" fill="#fdf3b7"/><path d="M10 17C10 8 14 2.500 20.300 2.500S30.500 8 30.500 17v7.500H10z" fill="#efc560"/><path d="M6.500 40c0-6 5-9.300 13.800-9.300S34 34 34 40z" fill="#e3a07d"/><rect x="17.300" y="24" width="6" height="8" rx="2" fill="#d8926f"/><ellipse cx="20.300" cy="18.300" rx="7.200" ry="8.500" fill="#e8a785"/><path d="M12.800 17c-.3-6.500 2.700-10.300 7.500-10.300s7.800 3.800 7.500 10.300c-1.500-3.500-3-5-5-5.500-1 1-2.500 1.300-4 1-3 .5-4.800 2-6 4.500z" fill="#f2cb66"/><path d="M12.500 40v-6q1.800 1 2.800-2 5 3.200 10 0 1 3 2.800 2v6z" fill="#f5a44b"/><circle cx="17.400" cy="18.500" r="1" fill="#4a2f25"/><circle cx="23.200" cy="18.500" r="1" fill="#4a2f25"/><path d="M19 23q1.300.8 2.600 0" stroke="#b86f55" stroke-width=".8" fill="none"/></g></svg>
<div class="t td sb" style="left:200px;top:311.7px;letter-spacing:0.1px">Joseph Hawkins</div>
<div class="t td mut" style="left:199.800px;top:332.9px;letter-spacing:.12px">joseph@gropX.com</div>
<div class="t td" style="left:483.800px;top:321.6px;letter-spacing:.12px">Angular Developer</div>
<div class="t td g" style="left:711px;top:321.6px;letter-spacing:.1px">Good</div>
<div class="bdg dis" style="left:883px;top:318.4px">Disabled</div>
<div class="abtn" style="left:1032.500px;top:312.6px"><svg class="ic" style="stroke-width:2" width="17" height="17" viewBox="0 0 24 24"><path d="M16.500 3.500a2.800 2.800 0 0 1 4 4L8 20l-5 1.500L4.500 16.500zM14.500 5.500l4 4"/></svg></div>
<div class="abtn" style="left:1073px;top:312.6px"><svg class="ic" style="stroke-width:2" width="17" height="17" viewBox="0 0 24 24"><path d="M3.500 6.500h17M9 6.500v-2A1.500 1.500 0 0 1 10.500 3h3A1.500 1.500 0 0 1 15 4.500v2M5.500 6.500l1 13A2 2 0 0 0 8.500 21.500h7a2 2 0 0 0 2-2l1-13M10 10.500v7M14 10.500v7"/></svg></div>
<div class="abs" style="left:0;top:423.8px;width:1178px;height:1px;background:#e2e8f0"></div>
<div class="t td" style="left:20px;top:385.1px;letter-spacing:-0.25px">TW-1005</div>
<svg class="abs" style="left:152px;top:371.7px" width="40" height="40" viewBox="0 0 40 40"><defs><clipPath id="ca5"><circle cx="20" cy="20" r="20"/></clipPath></defs><g clip-path="url(#ca5)"><rect width="40" height="40" fill="#fdf3b7"/><path d="M9.800 17C9.800 7.500 13.800 2 20.300 2S30.800 7.500 30.800 17v14H9.800z" fill="#1b8fcb"/><path d="M6.500 40c0-5.500 5-8.800 13.800-8.800S34 34.500 34 40z" fill="#dc9473"/><rect x="17.300" y="24" width="6" height="7" rx="2" fill="#c9805f"/><ellipse cx="20.300" cy="18.700" rx="6.800" ry="8.300" fill="#df9575"/><path d="M12.800 17c0-6.500 2.500-10 7.500-10s7.500 3.500 7.500 10c-.8-1.800-1.800-2.800-2.800-3.200h-9.400c-1 .4-2 1.400-2.800 3.200z" fill="#26a5e2"/><path d="M12.500 40q0-7.500 7.800-10 7.800 2.500 7.800 10z" fill="#f3de4c"/><circle cx="17.500" cy="18.800" r="1" fill="#3b2a2a"/><circle cx="23.100" cy="18.800" r="1" fill="#3b2a2a"/><path d="M19 23.300q1.300.7 2.600 0" stroke="#a85d48" stroke-width=".8" fill="none"/></g></svg>
<div class="t td sb" style="left:200px;top:375.2px;letter-spacing:0.34px">Jeremy Clifford</div>
<div class="t td mut" style="left:199.800px;top:396.4px;letter-spacing:.12px">joseph@gropX.com</div>
<div class="t td" style="left:483.800px;top:385.1px;letter-spacing:.12px">UI / UX Designer</div>
<div class="t td r" style="left:711px;top:385.1px;letter-spacing:.1px">Low</div>
<div class="bdg dis" style="left:883px;top:381.9px">Disabled</div>
<div class="abtn" style="left:1032.500px;top:376.1px"><svg class="ic" style="stroke-width:2" width="17" height="17" viewBox="0 0 24 24"><path d="M16.500 3.500a2.800 2.800 0 0 1 4 4L8 20l-5 1.500L4.500 16.500zM14.500 5.500l4 4"/></svg></div>
<div class="abtn" style="left:1073px;top:376.1px"><svg class="ic" style="stroke-width:2" width="17" height="17" viewBox="0 0 24 24"><path d="M3.500 6.500h17M9 6.500v-2A1.500 1.500 0 0 1 10.500 3h3A1.500 1.500 0 0 1 15 4.500v2M5.500 6.500l1 13A2 2 0 0 0 8.500 21.500h7a2 2 0 0 0 2-2l1-13M10 10.500v7M14 10.500v7"/></svg></div>
</div>
<div class="card" style="left:279px;top:1754px;width:379px;height:300px">
<div class="t" style="left:20px;top:22.500px;font-size:15px;color:#1e293b;letter-spacing:.57px;-webkit-text-stroke:.6px #1e293b">Upcoming Scheduled</div>
<svg class="abs ic" style="left:31px;top:67px;color:#0f172a;stroke-width:2" width="11" height="16" viewBox="0 0 11 16"><path d="M9 1.500 2 8l7 6.500"/></svg>
<svg class="abs ic" style="left:337px;top:67px;color:#0f172a;stroke-width:2" width="11" height="16" viewBox="0 0 11 16"><path d="M2 1.500 9 8l-7 6.500"/></svg>
<div class="t" style="left:125.300px;top:66px;font-size:17px;letter-spacing:-.02px;color:#0f172a;-webkit-text-stroke:.7px #0f172a">November</div>
<div class="t" style="left:212.800px;top:66px;font-size:17px;letter-spacing:.6px;color:#0f172a;-webkit-text-stroke:.7px #0f172a">2023</div>
<div class="t b" style="left:27.7px;width:40px;text-align:center;top:104.8px;font-size:12px;color:#64748b">Mon</div>
<div class="t b" style="left:74.8px;width:40px;text-align:center;top:104.8px;font-size:12px;color:#64748b">Tue</div>
<div class="t b" style="left:122.1px;width:40px;text-align:center;top:104.8px;font-size:12px;color:#64748b">Wed</div>
<div class="t b" style="left:169.4px;width:40px;text-align:center;top:104.8px;font-size:12px;color:#64748b">Thu</div>
<div class="t b" style="left:216.5px;width:40px;text-align:center;top:104.8px;font-size:12px;color:#64748b">Fri</div>
<div class="t b" style="left:263.8px;width:40px;text-align:center;top:104.8px;font-size:12px;color:#e11d48">Sat</div>
<div class="t b" style="left:310.9px;width:40px;text-align:center;top:104.8px;font-size:12px;color:#e11d48">Sun</div>
<div class="t" style="left:27.7px;width:40px;text-align:center;top:135.6px;font-size:13px;color:#94a3b8">30</div>
<div class="t" style="left:74.8px;width:40px;text-align:center;top:135.6px;font-size:13px;color:#94a3b8">31</div>
<div class="t" style="left:122.1px;width:40px;text-align:center;top:135.6px;font-size:13px;color:#1e293b">1</div>
<div class="t" style="left:169.4px;width:40px;text-align:center;top:135.6px;font-size:13px;color:#1e293b">2</div>
<div class="t" style="left:216.5px;width:40px;text-align:center;top:135.6px;font-size:13px;color:#1e293b">3</div>
<div class="t" style="left:263.8px;width:40px;text-align:center;top:135.6px;font-size:13px;color:#e5384f">4</div>
<div class="t" style="left:310.9px;width:40px;text-align:center;top:135.6px;font-size:13px;color:#e5384f">5</div>
<div class="t" style="left:27.7px;width:40px;text-align:center;top:170.0px;font-size:13px;color:#1e293b">6</div>
<div class="t" style="left:74.8px;width:40px;text-align:center;top:170.0px;font-size:13px;color:#1e293b">7</div>
<div class="t" style="left:122.1px;width:40px;text-align:center;top:170.0px;font-size:13px;color:#1e293b">8</div>
<div class="t" style="left:169.4px;width:40px;text-align:center;top:170.0px;font-size:13px;color:#1e293b">9</div>
<div class="t" style="left:216.5px;width:40px;text-align:center;top:170.0px;font-size:13px;color:#1e293b">10</div>
<div class="abs" style="left:260.7px;top:161.7px;width:47px;height:30px;background:#f97316;border-radius:8px"></div>
<div class="t" style="left:263.8px;width:40px;text-align:center;top:170.0px;font-size:13px;color:#fff;-webkit-text-stroke:.3px #fff">11</div>
<div class="t" style="left:310.9px;width:40px;text-align:center;top:170.0px;font-size:13px;color:#e5384f">12</div>
<div class="t" style="left:27.7px;width:40px;text-align:center;top:204.4px;font-size:13px;color:#1e293b">13</div>
<div class="t" style="left:74.8px;width:40px;text-align:center;top:204.4px;font-size:13px;color:#1e293b">14</div>
<div class="t" style="left:122.1px;width:40px;text-align:center;top:204.4px;font-size:13px;color:#1e293b">15</div>
<div class="t" style="left:169.4px;width:40px;text-align:center;top:204.4px;font-size:13px;color:#1e293b">16</div>
<div class="t" style="left:216.5px;width:40px;text-align:center;top:204.4px;font-size:13px;color:#1e293b">17</div>
<div class="t" style="left:263.8px;width:40px;text-align:center;top:204.4px;font-size:13px;color:#e5384f">18</div>
<div class="t" style="left:310.9px;width:40px;text-align:center;top:204.4px;font-size:13px;color:#e5384f">19</div>
<div class="t" style="left:27.7px;width:40px;text-align:center;top:238.8px;font-size:13px;color:#1e293b">20</div>
<div class="t" style="left:74.8px;width:40px;text-align:center;top:238.8px;font-size:13px;color:#1e293b">21</div>
<div class="t" style="left:122.1px;width:40px;text-align:center;top:238.8px;font-size:13px;color:#1e293b">22</div>
<div class="t" style="left:169.4px;width:40px;text-align:center;top:238.8px;font-size:13px;color:#1e293b">23</div>
<div class="t" style="left:216.5px;width:40px;text-align:center;top:238.8px;font-size:13px;color:#1e293b">24</div>
<div class="t" style="left:263.8px;width:40px;text-align:center;top:238.8px;font-size:13px;color:#e5384f">25</div>
<div class="t" style="left:310.9px;width:40px;text-align:center;top:238.8px;font-size:13px;color:#e5384f">26</div>
</div>
<div class="card" style="left:678px;top:1754px;width:379.500px;height:300px;overflow:hidden">
<svg class="abs" style="left:0;top:0" width="380" height="300" viewBox="678 1754 380 300" font-family="Liberation Sans, sans-serif">
<text x="698.800" y="1792.700" font-size="15" fill="#1e293b" stroke="#1e293b" stroke-width=".6" letter-spacing=".6">Total Projects (247)</text>
<circle cx="1022.400" cy="1784.800" r="1.300" fill="#475569"/><circle cx="1022.400" cy="1789.500" r="1.300" fill="#475569"/><circle cx="1022.400" cy="1794.200" r="1.300" fill="#475569"/>
<path d="M735.600 2008.8H1036.400" stroke="#e9edf3" stroke-width="1"/>
<text x="725" y="2011.0" text-anchor="end" font-size="11.200" fill="#64748b">30</text>
<path d="M735.600 1949.7H1036.400" stroke="#e9edf3" stroke-width="1"/>
<text x="725" y="1951.9" text-anchor="end" font-size="11.200" fill="#64748b">60</text>
<path d="M735.600 1890.7H1036.400" stroke="#e9edf3" stroke-width="1"/>
<text x="725" y="1892.9" text-anchor="end" font-size="11.200" fill="#64748b">90</text>
<path d="M735.600 1831.6H1036.400" stroke="#e9edf3" stroke-width="1"/>
<text x="725" y="1833.8" text-anchor="end" font-size="11.200" fill="#64748b">120</text>
<rect x="748.2" y="1981.2" width="8.3" height="86.6" fill="#3b82f6"/>
<rect x="748.2" y="1955.6" width="8.3" height="25.6" fill="#eab308"/>
<rect x="748.2" y="1934.0" width="8.3" height="21.6" fill="#2dbda0"/>
<path d="M748.2 1934.0V1895.1q0-2.5 2.5-2.5h3.3q2.5 0 2.5 2.5V1934.0z" fill="#f87171"/>
<rect x="781.6" y="1959.6" width="8.3" height="108.2" fill="#3b82f6"/>
<rect x="781.6" y="1914.3" width="8.3" height="45.3" fill="#eab308"/>
<rect x="781.6" y="1880.8" width="8.3" height="33.5" fill="#2dbda0"/>
<path d="M781.6 1880.8V1869.6q0-2.5 2.5-2.5h3.3q2.5 0 2.5 2.5V1880.8z" fill="#f87171"/>
<rect x="815.0" y="1987.1" width="8.3" height="80.7" fill="#3b82f6"/>
<rect x="815.0" y="1947.8" width="8.3" height="39.4" fill="#eab308"/>
<rect x="815.0" y="1918.2" width="8.3" height="29.5" fill="#2dbda0"/>
<path d="M815.0 1918.2V1871.5q0-2.5 2.5-2.5h3.3q2.5 0 2.5 2.5V1918.2z" fill="#f87171"/>
<rect x="848.4" y="1935.9" width="8.3" height="131.9" fill="#3b82f6"/>
<rect x="848.4" y="1920.2" width="8.3" height="15.7" fill="#eab308"/>
<rect x="848.4" y="1890.7" width="8.3" height="29.5" fill="#2dbda0"/>
<path d="M848.4 1890.7V1867.6q0-2.5 2.5-2.5h3.3q2.5 0 2.5 2.5V1890.7z" fill="#f87171"/>
<rect x="881.8" y="2024.5" width="8.3" height="43.3" fill="#3b82f6"/>
<rect x="881.8" y="1998.9" width="8.3" height="25.6" fill="#eab308"/>
<rect x="881.8" y="1957.6" width="8.3" height="41.3" fill="#2dbda0"/>
<path d="M881.8 1957.6V1916.8q0-2.5 2.5-2.5h3.3q2.5 0 2.5 2.5V1957.6z" fill="#f87171"/>
<rect x="915.3" y="1983.2" width="8.3" height="84.6" fill="#3b82f6"/>
<rect x="915.3" y="1930.0" width="8.3" height="53.1" fill="#eab308"/>
<rect x="915.3" y="1902.5" width="8.3" height="27.6" fill="#2dbda0"/>
<path d="M915.3 1902.5V1889.2q0-2.5 2.5-2.5h3.3q2.5 0 2.5 2.5V1902.5z" fill="#f87171"/>
<rect x="948.7" y="2026.5" width="8.3" height="41.3" fill="#3b82f6"/>
<rect x="948.7" y="2006.8" width="8.3" height="19.7" fill="#eab308"/>
<rect x="948.7" y="1977.3" width="8.3" height="29.5" fill="#2dbda0"/>
<path d="M948.7 1977.3V1954.2q0-2.5 2.5-2.5h3.3q2.5 0 2.5 2.5V1977.3z" fill="#f87171"/>
<rect x="982.1" y="1959.6" width="8.3" height="108.2" fill="#3b82f6"/>
<rect x="982.1" y="1920.2" width="8.3" height="39.4" fill="#eab308"/>
<rect x="982.1" y="1898.6" width="8.3" height="21.6" fill="#2dbda0"/>
<path d="M982.1 1898.6V1887.3q0-2.5 2.5-2.5h3.3q2.5 0 2.5 2.5V1898.6z" fill="#f87171"/>
<rect x="1015.5" y="1987.1" width="8.3" height="80.7" fill="#3b82f6"/>
<rect x="1015.5" y="1971.4" width="8.3" height="15.7" fill="#eab308"/>
<rect x="1015.5" y="1937.9" width="8.3" height="33.5" fill="#2dbda0"/>
<path d="M1015.5 1937.9V1891.2q0-2.5 2.5-2.5h3.3q2.5 0 2.5 2.5V1937.9z" fill="#f87171"/>
</svg></div>
<div class="card" style="left:1078px;top:1754px;width:379px;height:300px;overflow:hidden">
<div class="t" style="left:20px;top:22.500px;font-size:15px;color:#1e293b;letter-spacing:.5px;-webkit-text-stroke:.6px #1e293b">Upcoming Interview</div>
<div class="abs" style="left:20px;top:54px;width:339px;height:105px;border:1px solid #e2e8f0;border-radius:7px"></div>
<div class="abs" style="left:20px;top:117.5px;width:339px;height:1px;background:#e2e8f0"></div>
<svg class="abs" style="left:29.500px;top:67px" width="40" height="40" viewBox="0 0 40 40"><defs><clipPath id="cj"><circle cx="20" cy="20" r="20"/></clipPath></defs><g clip-path="url(#cj)"><rect width="40" height="40" fill="#ece6e1"/><path d="M0 15h9v17H0z" fill="#f5a623"/><path d="M0 17h6v6H0z" fill="#e4572e"/><path d="M7 22C5.500 10 11 1 20.500 1S37 8 36 20c1.500 5 0 11-3.500 14.500H9C6 31 5.500 26.500 7 22z" fill="#6d4a35"/><path d="M10 16c2-4 1-8 5-11M33 14c1 4 3 7 1 12M9 27c2 2 1 5 3 7" stroke="#8a6246" stroke-width="1.500" fill="none"/><path d="M7 40c0-5 5.500-7.500 13.500-7.500S34 35 34 40z" fill="#9695a6"/><rect x="17.300" y="26" width="6.400" height="8" rx="2.500" fill="#d6a38b"/><ellipse cx="20.500" cy="18" rx="6.600" ry="8.800" fill="#e3b39d"/><path d="M13.500 17c0-6 3-10 7.500-10 3.500 0 6.300 2.500 6.800 8-2.500-1.500-4.500-3.500-5.800-6-2 3.500-5 6-8.500 8z" fill="#6d4a35"/><circle cx="17.800" cy="17.300" r=".9" fill="#4a3226"/><circle cx="23.400" cy="17.300" r=".9" fill="#4a3226"/><path d="M18 22.300q2.600 1.800 5.200 0" stroke="#b5705f" stroke-width="1" fill="none"/></g></svg>
<div class="t td sb" style="left:81.700px;top:66.5px;letter-spacing:0.07px">James Krogman</div>
<div class="t td mut" style="left:81.500px;top:91.5px;letter-spacing:0px">james@gropX.com</div>
<svg class="abs" style="left:332px;top:79px" width="5" height="15" viewBox="0 0 5 15" fill="#475569"><circle cx="2.500" cy="2.500" r="1.300"/><circle cx="2.500" cy="7.500" r="1.300"/><circle cx="2.500" cy="12.500" r="1.300"/></svg>
<svg class="abs ic" style="left:30px;top:131px;color:#64748b;stroke-width:1.400" width="15" height="15" viewBox="0 0 15 15"><rect x="1.500" y="2.500" width="12" height="11.500" rx="1.800"/><path d="M4.500 1v3M10.500 1v3M1.500 6.500h12"/></svg>
<div class="t td mut" style="left:53px;top:131px">25 Nov</div>
<svg class="abs ic" style="left:111.500px;top:131px;color:#64748b;stroke-width:1.300" width="15" height="15" viewBox="0 0 15 15"><circle cx="7.500" cy="7.500" r="6.500"/><path d="M7.500 3.800v3.700l2.400 1.400"/></svg>
<div class="t td mut" style="left:135px;top:131px;letter-spacing:-.3px">02:41 PM</div>
<div class="abs" style="left:282.0px;top:127px;width:67.5px;height:22.500px;border:1px solid #2dbda0;border-radius:4px;color:#14a07a;font-size:12.600px;font-weight:500;display:flex;align-items:center;justify-content:center;-webkit-text-stroke:.3px #14a07a">Confirm</div>
<div class="abs" style="left:20px;top:170.5px;width:339px;height:105px;border:1px solid #e2e8f0;border-radius:7px"></div>
<div class="abs" style="left:20px;top:234.0px;width:339px;height:1px;background:#e2e8f0"></div>
<svg class="abs" style="left:29.500px;top:183.5px" width="40" height="40" viewBox="0 0 40 40"><defs><clipPath id="cm"><circle cx="20" cy="20" r="20"/></clipPath></defs><g clip-path="url(#cm)"><rect width="40" height="40" fill="#e4e2e0"/><path d="M3 40c0-6 3-8.500 9-10.500l4.500-2.500h7.500l4.500 2.500c6 2 9 4.500 9 10.500z" fill="#1a1a1a"/><path d="M17 24h6.800v4.500q-3.400 2.300-6.800 0z" fill="#cf9c82"/><ellipse cx="20.300" cy="16.500" rx="6.200" ry="8.300" fill="#dcab91"/><path d="M13 14c-2-7 2-12.500 7.500-12.500S30 7 27.500 14c-.5-2.500-1.500-4-2.800-5-3 1-6 1-8.500 0-1.500 1-2.500 2.500-3.200 5z" fill="#3c2a20"/><path d="M15 15.300h4.300M21.300 15.300h4.300" stroke="#5a4538" stroke-width=".8"/><circle cx="17.200" cy="15.500" r="1.700" fill="none" stroke="#6b5648" stroke-width=".5"/><circle cx="23.400" cy="15.500" r="1.700" fill="none" stroke="#6b5648" stroke-width=".5"/><path d="M15.500 19c.5 4 2.500 6 4.800 6s4.300-2 4.800-6c-1 2-2.500 2.800-4.800 2.800S16.500 21 15.500 19z" fill="#b98a72"/><path d="M18 20.500q2.300 1.500 4.600 0" stroke="#fff" stroke-width=".9" fill="none"/></g></svg>
<div class="t td sb" style="left:81.700px;top:183.0px;letter-spacing:0.43px">Michael Scott</div>
<div class="t td mut" style="left:81.500px;top:208.0px;letter-spacing:0.2px">michaelScott@gropX.com</div>
<svg class="abs" style="left:332px;top:195.5px" width="5" height="15" viewBox="0 0 5 15" fill="#475569"><circle cx="2.500" cy="2.500" r="1.300"/><circle cx="2.500" cy="7.500" r="1.300"/><circle cx="2.500" cy="12.500" r="1.300"/></svg>
<svg class="abs ic" style="left:30px;top:247.5px;color:#64748b;stroke-width:1.400" width="15" height="15" viewBox="0 0 15 15"><rect x="1.500" y="2.500" width="12" height="11.500" rx="1.800"/><path d="M4.500 1v3M10.500 1v3M1.500 6.500h12"/></svg>
<div class="t td mut" style="left:53px;top:247.5px">25 Nov</div>
<svg class="abs ic" style="left:111.500px;top:247.5px;color:#64748b;stroke-width:1.300" width="15" height="15" viewBox="0 0 15 15"><circle cx="7.500" cy="7.500" r="6.500"/><path d="M7.500 3.800v3.700l2.400 1.400"/></svg>
<div class="t td mut" style="left:135px;top:247.5px;letter-spacing:-.3px">02:41 PM</div>
<div class="abs" style="left:247.5px;top:243.5px;width:102px;height:22.500px;border:1px solid #60a5fa;border-radius:4px;color:#60a5fa;font-size:12.600px;font-weight:500;display:flex;align-items:center;justify-content:center;-webkit-text-stroke:.3px #60a5fa">Reschedule</div>
</div>
</body>
</html>
